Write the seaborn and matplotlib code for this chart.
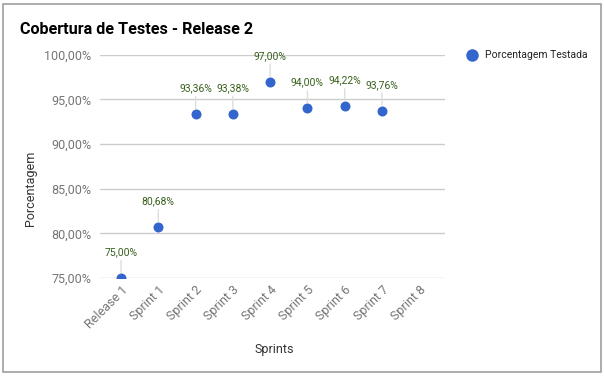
import pandas as pd
import seaborn as sns
import matplotlib.pyplot as plt
from matplotlib.ticker import FuncFormatter
from matplotlib.patches import Rectangle

# dados
categorias = ['Release 1', 'Sprint 1', 'Sprint 2', 'Sprint 3', 'Sprint 4',
              'Sprint 5', 'Sprint 6', 'Sprint 7', 'Sprint 8']
sprints = ['Release 1', 'Sprint 1', 'Sprint 2', 'Sprint 3', 'Sprint 4',
           'Sprint 5', 'Sprint 6', 'Sprint 7']
porcentagem = [75.00, 80.68, 93.36, 93.38, 97.00, 94.00, 94.22, 93.76]

df = pd.DataFrame({'Sprints': sprints, 'Porcentagem Testada': porcentagem})

sns.set_style('white')
plt.rcParams['font.family'] = ['Roboto', 'DejaVu Sans']

fig = plt.figure(figsize=(6.05, 3.76), dpi=100)
ax = fig.add_axes([0.165, 0.261, 0.571, 0.593])

sns.stripplot(data=df, x='Sprints', y='Porcentagem Testada', order=categorias,
              jitter=False, color='#3366cc', size=7.2, linewidth=0, ax=ax,
              clip_on=True, zorder=3)

# rótulos dos pontos
for i, v in enumerate(porcentagem):
    txt = f'{v:.2f}%'.replace('.', ',')
    ax.annotate(txt, xy=(i, v), xytext=(0, 15), textcoords='offset points',
                ha='center', va='bottom', fontsize=7.5, color='#38601c',
                arrowprops=dict(arrowstyle='-', color='#dddddd', lw=1,
                                shrinkA=0, shrinkB=4))

ax.set_ylim(75, 100)
ax.set_xlim(-0.57, 8.7)
ax.set_yticks([75, 80, 85, 90, 95, 100])
ax.yaxis.set_major_formatter(FuncFormatter(lambda y, _: f'{y:.2f}%'.replace('.', ',')))
ax.grid(axis='y', color='#cccccc', lw=1)
ax.grid(axis='x', visible=False)
for s in ax.spines.values():
    s.set_visible(False)
ax.tick_params(axis='both', length=0, labelsize=9, labelcolor='#757575', pad=6)
ax.tick_params(axis='x', pad=4)
plt.setp(ax.get_xticklabels(), rotation=45, ha='right', rotation_mode='anchor')
ax.set_xlabel('')
ax.set_ylabel('')

fig.text(0.453, 1 - 349 / 376, 'Sprints', ha='center', va='center',
         fontsize=9, color='#333333')
fig.text(30 / 605, 1 - 188 / 376, 'Porcentagem', ha='center', va='center',
         rotation=90, fontsize=9, color='#333333')
fig.text(20 / 605, 1 - 29 / 376, 'Cobertura de Testes - Release 2', ha='left',
         va='center', fontsize=11.6, fontweight='bold', color='#000000')

ax.legend([ax.collections[0]], ['Porcentagem Testada'], loc='center left',
          bbox_to_anchor=(452 / 605, 1 - 55 / 376),
          bbox_transform=fig.transFigure, frameon=False, fontsize=7.5,
          handletextpad=0.3, markerscale=1.25, labelcolor='#222222')

# moldura
fig.patches.append(Rectangle((3 / 605, 4 / 376), 598 / 605, 368 / 376,
                             transform=fig.transFigure, fill=False,
                             edgecolor='#9e9e9e', lw=1.2))

plt.savefig('out.png', dpi=100)
